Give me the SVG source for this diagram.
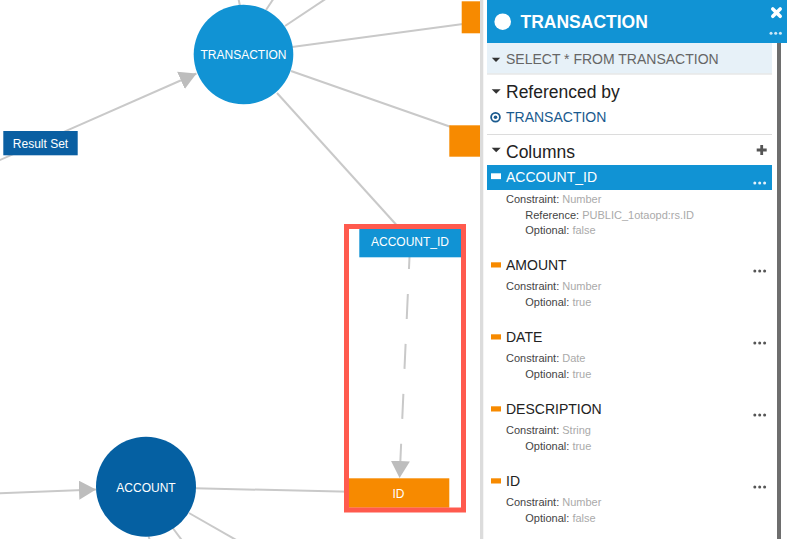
<svg xmlns="http://www.w3.org/2000/svg" width="787" height="539" viewBox="0 0 787 539">
<style>
.edge{stroke:#c9c9c9;stroke-width:2;fill:none}
.gt{font-family:"Liberation Sans",Arial,sans-serif;font-size:12px;fill:#fff;text-anchor:middle}
.pt{font-family:"Liberation Sans",Arial,sans-serif}
.h{font-size:17.5px;fill:#222}
.col{font-size:14px;fill:#222}
.k{font-size:11px;fill:#444}
.v{fill:#aaa}
.tri{fill:#333}
.dot{fill:#555}
.sep{stroke:#dcdcdc;stroke-width:1.2}
.oi{fill:#f78a00}
</style>
<defs>
<marker id="arr" viewBox="0 0 17 19" refX="17" refY="9.5" markerWidth="17" markerHeight="19" markerUnits="userSpaceOnUse" orient="auto">
<path d="M0,0 L17,9.5 L0,19 Z" fill="#bdbdbd"/>
</marker>
</defs>
<rect width="787" height="539" fill="#fff"/>
<g id="connectors">
<line class="edge" x1="240" y1="6" x2="238.3" y2="-2"/>
<line class="edge" x1="266" y1="10" x2="274" y2="-2"/>
<line class="edge" x1="285" y1="26" x2="327" y2="-2"/>
<line class="edge" x1="292" y1="47" x2="463" y2="24"/>
<line class="edge" x1="291" y1="71" x2="451" y2="127"/>
<line class="edge" x1="277" y1="93" x2="401" y2="230"/>
<line class="edge" x1="-10" y1="164.4" x2="196.5" y2="73.5" marker-end="url(#arr)"/>
<line class="edge" x1="-5" y1="493.5" x2="96" y2="489.5" marker-end="url(#arr)"/>
<line class="edge" x1="195" y1="488.3" x2="350" y2="491.7"/>
<line class="edge" x1="189" y1="513" x2="238" y2="541"/>
<line class="edge" x1="172" y1="527" x2="182.5" y2="541"/>
<line class="edge" x1="148.5" y1="536" x2="150" y2="541"/>
<line class="edge" x1="409.5" y1="257" x2="399.6" y2="478" stroke-dasharray="25 25" stroke-dashoffset="13" marker-end="url(#arr)"/>
</g>
<g id="node-transaction">
<circle cx="243.5" cy="54.5" r="49.8" fill="#1193d4"/>
<text class="gt" x="243.5" y="58.8">TRANSACTION</text>
</g>
<g id="node-result-set">
<rect x="3.3" y="131" width="74.4" height="24.3" fill="#0a5fa2"/>
<text class="gt" x="40.5" y="147.7">Result Set</text>
</g>
<g id="node-orange-top">
<rect x="461.7" y="1.3" width="20" height="32" fill="#f78a00"/>
</g>
<g id="node-orange-mid">
<rect x="449.3" y="125.3" width="32" height="31.4" fill="#f78a00"/>
</g>
<g id="node-account-id">
<rect x="359.3" y="228.5" width="101.7" height="28.8" fill="#1193d4"/>
<text class="gt" x="410" y="245.8">ACCOUNT_ID</text>
</g>
<g id="node-id">
<rect x="348" y="478.3" width="101.3" height="29.4" fill="#f78a00"/>
<text class="gt" x="398.5" y="497.8">ID</text>
</g>
<g id="node-account">
<circle cx="146" cy="486.7" r="50" fill="#0560a2"/>
<text class="gt" x="146" y="491.7">ACCOUNT</text>
</g>
<g id="highlight">
<rect x="346.5" y="226.5" width="117" height="283.5" fill="none" stroke="#ff5a4e" stroke-width="5"/>
</g>
<g id="panel">
<rect x="480" y="0" width="307" height="539" fill="#fff"/>
<rect x="480" y="0" width="3.3" height="539" fill="#dcdcdc"/>
<rect x="487" y="0" width="300" height="43" fill="#1193d4"/>
<circle cx="502.7" cy="21.7" r="8.3" fill="#fff"/>
<text class="pt" x="520.5" y="27.6" font-size="17.5" font-weight="bold" fill="#fff">TRANSACTION</text>
<path d="M772.8,9 L780.2,16.3 M780.2,9 L772.8,16.3" stroke="#fff" stroke-width="3.6" stroke-linecap="round"/>
<circle cx="771" cy="33.3" r="1.5" fill="#cfe8f7"/>
<circle cx="775.7" cy="33.3" r="1.5" fill="#cfe8f7"/>
<circle cx="780.4" cy="33.3" r="1.5" fill="#cfe8f7"/>
<rect x="777" y="43" width="4" height="496" fill="#6e6e6e"/>
<rect x="487" y="43" width="285" height="30.5" fill="#e7f1f8"/>
<path class="tri" d="M491.8,57.8 L500.2,57.8 L496,62 Z"/>
<text class="pt" x="506" y="64" font-size="14" fill="#666">SELECT * FROM TRANSACTION</text>
<line class="sep" x1="487" y1="74" x2="772" y2="74"/>
<path class="tri" d="M491.7,89.3 L500.7,89.3 L496.2,93.8 Z"/>
<text class="pt h" x="506" y="98.3">Referenced by</text>
<circle cx="495.5" cy="117.2" r="4.4" fill="none" stroke="#1a5a8e" stroke-width="1.8"/>
<circle cx="495.5" cy="117.2" r="1.8" fill="#1a5a8e"/>
<text class="pt" x="506" y="122.3" font-size="14" fill="#1a5a8e">TRANSACTION</text>
<line class="sep" x1="487" y1="134.5" x2="772" y2="134.5"/>
<path class="tri" d="M491.7,147.8 L500.7,147.8 L496.2,152.3 Z"/>
<text class="pt h" x="506" y="157.6">Columns</text>
<path d="M756.7,150 H766.7 M761.7,145 V155" stroke="#555" stroke-width="2.8"/>
<g id="col-account-id">
<rect x="487" y="165" width="285" height="25" fill="#1193d4"/>
<rect x="491" y="173.3" width="10" height="5.8" fill="#fff"/>
<text class="pt" x="506" y="182" font-size="14" fill="#fff">ACCOUNT_ID</text>
<circle cx="754.8" cy="183" r="1.5" fill="#e4f2fb"/>
<circle cx="759.7" cy="183" r="1.5" fill="#e4f2fb"/>
<circle cx="764.6" cy="183" r="1.5" fill="#e4f2fb"/>
<text class="pt k" x="506" y="202.5">Constraint: <tspan class="v">Number</tspan></text>
<text class="pt k" x="525.3" y="218.5">Reference: <tspan class="v">PUBLIC_1otaopd:rs.ID</tspan></text>
<text class="pt k" x="525.3" y="234">Optional: <tspan class="v">false</tspan></text>
</g>
<g id="col-amount">
<rect class="oi" x="491" y="262.3" width="10" height="5.2"/>
<text class="pt col" x="506" y="270">AMOUNT</text>
<circle class="dot" cx="754.8" cy="271" r="1.5"/>
<circle class="dot" cx="759.7" cy="271" r="1.5"/>
<circle class="dot" cx="764.6" cy="271" r="1.5"/>
<text class="pt k" x="506" y="290">Constraint: <tspan class="v">Number</tspan></text>
<text class="pt k" x="525.3" y="305.8">Optional: <tspan class="v">true</tspan></text>
</g>
<g id="col-date">
<rect class="oi" x="491" y="334.3" width="10" height="5.2"/>
<text class="pt col" x="506" y="342">DATE</text>
<circle class="dot" cx="754.8" cy="343" r="1.5"/>
<circle class="dot" cx="759.7" cy="343" r="1.5"/>
<circle class="dot" cx="764.6" cy="343" r="1.5"/>
<text class="pt k" x="506" y="362">Constraint: <tspan class="v">Date</tspan></text>
<text class="pt k" x="525.3" y="377.8">Optional: <tspan class="v">true</tspan></text>
</g>
<g id="col-description">
<rect class="oi" x="491" y="406.3" width="10" height="5.2"/>
<text class="pt col" x="506" y="414">DESCRIPTION</text>
<circle class="dot" cx="754.8" cy="415" r="1.5"/>
<circle class="dot" cx="759.7" cy="415" r="1.5"/>
<circle class="dot" cx="764.6" cy="415" r="1.5"/>
<text class="pt k" x="506" y="434">Constraint: <tspan class="v">String</tspan></text>
<text class="pt k" x="525.3" y="449.8">Optional: <tspan class="v">true</tspan></text>
</g>
<g id="col-id">
<rect class="oi" x="491" y="478.3" width="10" height="5.2"/>
<text class="pt col" x="506" y="486">ID</text>
<circle class="dot" cx="754.8" cy="487" r="1.5"/>
<circle class="dot" cx="759.7" cy="487" r="1.5"/>
<circle class="dot" cx="764.6" cy="487" r="1.5"/>
<text class="pt k" x="506" y="506">Constraint: <tspan class="v">Number</tspan></text>
<text class="pt k" x="525.3" y="521.8">Optional: <tspan class="v">false</tspan></text>
</g>
</g>
</svg>
